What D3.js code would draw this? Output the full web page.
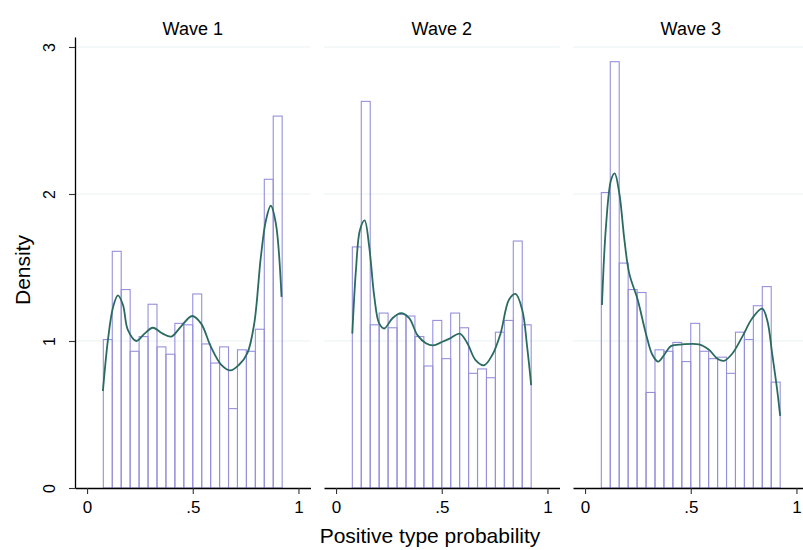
<!DOCTYPE html>
<html>
<head>
<meta charset="utf-8">
<script src="https://cdn.jsdelivr.net/npm/d3@7"></script>
<style>
  body { margin: 0; background: #fff; }
  text { font-family: "Liberation Sans", Arial, sans-serif; fill: #000; }
</style>
</head>
<body>
<main></main>
<script>
// histogram + kernel density, one panel per wave
const waves = ['Wave 1', 'Wave 2', 'Wave 3'];
const binMin = 0.077, binMax = 0.923, binCount = 20;

const wave1Bars = [1.01, 1.61, 1.35, 0.93, 1.03, 1.25, 0.96, 0.91, 1.12, 1.11,
                   1.32, 0.98, 0.85, 0.96, 0.54, 0.94, 0.93, 1.08, 2.10, 2.53];
const wave2Bars = [1.64, 2.63, 1.11, 1.19, 1.09, 1.18, 1.17, 1.03, 0.83, 1.14,
                   0.88, 1.19, 1.09, 0.78, 0.81, 0.75, 1.06, 1.14, 1.68, 1.11];
const wave3Bars = [2.01, 2.90, 1.53, 1.35, 1.33, 0.65, 0.94, 0.93, 0.99, 0.86,
                   1.12, 0.93, 0.88, 0.89, 0.78, 1.06, 1.01, 1.24, 1.37, 0.72];

const wave1Kde = [[0.075, 0.66], [0.099, 1.01], [0.123, 1.23], [0.146, 1.31], [0.170, 1.245],
                  [0.193, 1.075], [0.233, 1.00], [0.272, 1.05], [0.311, 1.09], [0.358, 1.05],
                  [0.398, 1.03], [0.445, 1.10], [0.497, 1.17], [0.539, 1.12], [0.586, 0.96],
                  [0.634, 0.84], [0.678, 0.80], [0.720, 0.84], [0.759, 0.92], [0.791, 1.12],
                  [0.822, 1.57], [0.846, 1.82], [0.869, 1.92], [0.893, 1.80], [0.920, 1.30]];
const wave2Kde = [[0.077, 1.05], [0.094, 1.48], [0.113, 1.755], [0.135, 1.82], [0.157, 1.64],
                  [0.181, 1.30], [0.204, 1.12], [0.228, 1.085], [0.267, 1.155], [0.307, 1.19],
                  [0.346, 1.155], [0.385, 1.04], [0.425, 0.985], [0.459, 0.97], [0.503, 0.995],
                  [0.542, 1.02], [0.585, 1.05], [0.621, 0.985], [0.660, 0.87], [0.700, 0.835],
                  [0.739, 0.905], [0.778, 1.05], [0.818, 1.28], [0.849, 1.32], [0.881, 1.21],
                  [0.904, 0.96], [0.923, 0.70]];
const wave3Kde = [[0.080, 1.245], [0.099, 1.78], [0.123, 2.095], [0.140, 2.14], [0.162, 2.005],
                  [0.186, 1.69], [0.209, 1.46], [0.249, 1.28], [0.288, 1.05], [0.319, 0.905],
                  [0.346, 0.86], [0.374, 0.905], [0.406, 0.965], [0.461, 0.977], [0.539, 0.977],
                  [0.586, 0.94], [0.626, 0.88], [0.657, 0.865], [0.697, 0.915], [0.744, 1.03],
                  [0.791, 1.155], [0.838, 1.22], [0.862, 1.14], [0.885, 0.915], [0.909, 0.665],
                  [0.923, 0.49]];

const xTicks = [0, 0.5, 1];
const xTickLabels = ['0', '.5', '1'];
const yTicks = [0, 1, 2, 3];

const barSets = [wave1Bars, wave2Bars, wave3Bars];
const kdeSets = [wave1Kde, wave2Kde, wave3Kde];

const svg = d3.select('main')
    .append('svg')
    .attr('width', 803)
    .attr('height', 550);

const yScale = d3.scaleLinear()
    .domain([0, 3.068])
    .range([488, 37]);

const binWidth = (binMax - binMin) / binCount;

waves.forEach((title, i) => {
    const left = 75 + i * 249;
    const xScale = d3.scaleLinear()
        .domain([-0.057, 1.057])
        .range([left, left + 235.5]);

    const g = svg.append('g');

    // grid
    g.selectAll('.grid')
        .data(yTicks.filter((t) => t > 0))
        .enter()
        .append('line')
        .attr('x1', xScale.range()[0])
        .attr('x2', xScale.range()[1])
        .attr('y1', (d) => yScale(d))
        .attr('y2', (d) => yScale(d))
        .attr('stroke', '#e9f1f2')
        .attr('stroke-width', 1.2);

    // bars
    g.selectAll('.bar')
        .data(barSets[i])
        .enter()
        .append('rect')
        .attr('x', (d, j) => xScale(binMin + j * binWidth))
        .attr('width', (d, j) => xScale(binMin + (j + 1) * binWidth) - xScale(binMin + j * binWidth))
        .attr('y', (d) => yScale(d))
        .attr('height', (d) => yScale(0) - yScale(d))
        .attr('fill', 'none')
        .attr('stroke', '#9690dc')
        .attr('stroke-width', 1.1);

    // density
    const line = d3.line()
        .x((d) => xScale(d[0]))
        .y((d) => yScale(d[1]))
        .curve(d3.curveCatmullRom.alpha(0.5));

    g.append('path')
        .datum(kdeSets[i])
        .attr('d', line)
        .attr('fill', 'none')
        .attr('stroke', '#2a6b60')
        .attr('stroke-width', 1.8);

    // x axis
    const xAxis = g.append('g')
        .attr('transform', `translate(0, ${yScale(0)})`)
        .call(
            d3.axisBottom(xScale)
                .tickValues(xTicks)
                .tickFormat((d, j) => xTickLabels[j])
                .tickSize(6)
                .tickSizeOuter(0)
                .tickPadding(7)
        );
    xAxis.select('.domain').attr('stroke', '#000').attr('stroke-width', 1.3);
    xAxis.selectAll('.tick line').attr('stroke', '#333').attr('stroke-width', 1.1);
    xAxis.selectAll('.tick text')
        .attr('font-size', 17)
        .attr('font-family', '"Liberation Sans", Arial, sans-serif');

    // panel title
    svg.append('text')
        .attr('x', (xScale.range()[0] + xScale.range()[1]) / 2)
        .attr('y', 35)
        .attr('text-anchor', 'middle')
        .attr('font-size', 18)
        .text(title);

    if (i === 0) {
        const yAxis = svg.append('g')
            .attr('transform', `translate(${left}, 0)`)
            .call(
                d3.axisLeft(yScale)
                    .tickValues(yTicks)
                    .tickFormat(d3.format('d'))
                    .tickSize(6)
                    .tickSizeOuter(0)
            );
        yAxis.select('.domain').attr('stroke', '#000').attr('stroke-width', 1.3);
        yAxis.selectAll('.tick line').attr('stroke', '#333').attr('stroke-width', 1.1);
        yAxis.selectAll('.tick text')
            .attr('font-size', 16)
            .attr('font-family', '"Liberation Sans", Arial, sans-serif')
            .attr('text-anchor', 'middle')
            .attr('transform', 'rotate(-90)')
            .attr('x', 0)
            .attr('y', -20)
            .attr('dy', 0);
    }
});

svg.append('text')
    .attr('transform', 'translate(30, 270) rotate(-90)')
    .attr('text-anchor', 'middle')
    .attr('font-size', 21)
    .text('Density');

svg.append('text')
    .attr('x', 430)
    .attr('y', 543)
    .attr('text-anchor', 'middle')
    .attr('font-size', 21)
    .text('Positive type probability');
</script>
</body>
</html>
